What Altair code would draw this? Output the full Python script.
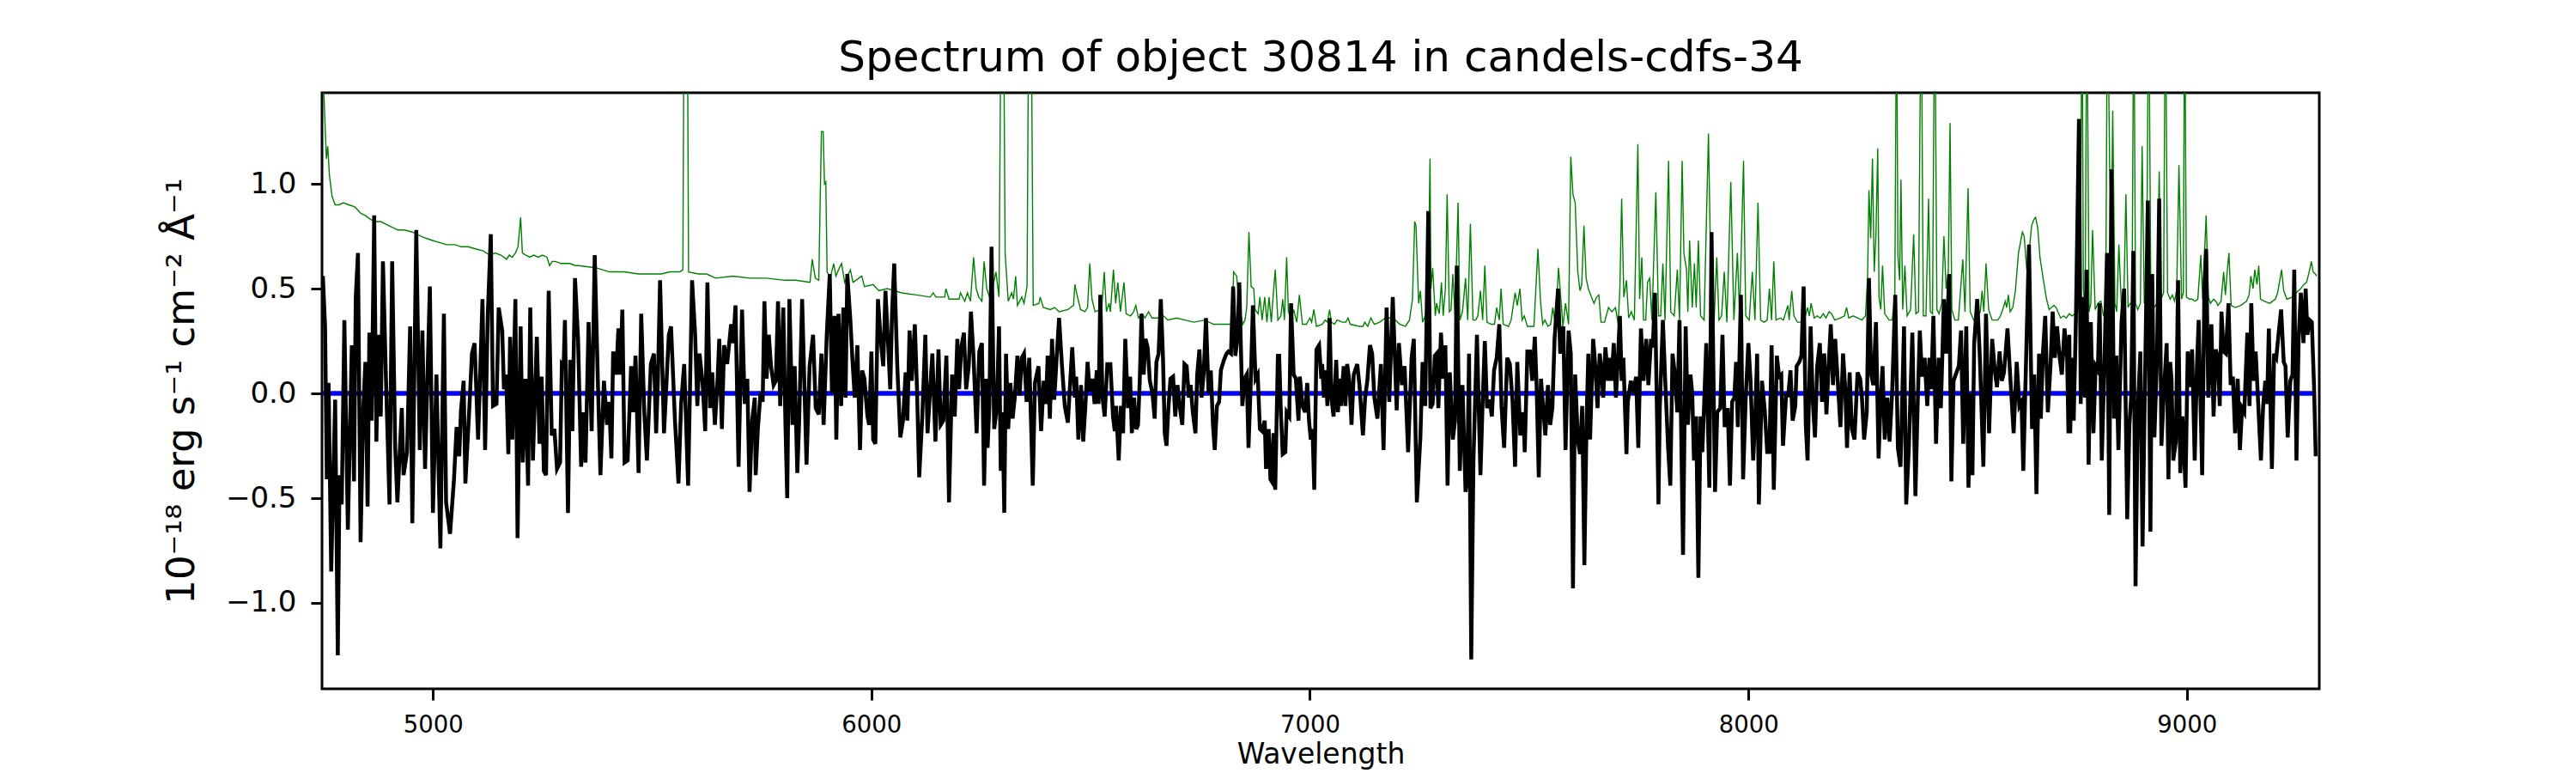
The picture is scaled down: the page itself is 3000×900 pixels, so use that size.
import altair as alt
import pandas as pd

TITLE = "Spectrum of object 30814 in candels-cdfs-34"
X_LABEL = "Wavelength"
Y_LABEL = "10⁻¹⁸ erg s⁻¹ cm⁻² Å⁻¹"
X_TICKS = [5000, 6000, 7000, 8000, 9000]
Y_TICKS = [-1.0, -0.5, 0.0, 0.5, 1.0]
X_DOMAIN = [4747, 9302]
Y_DOMAIN = [-1.41, 1.435]

flux_a = [(4749,0.56),(4754,0.32),(4758,-0.41),(4762,0.05),(4768,-0.85),(4777,-0.03),(4783,-1.25),(4787,-0.39),(4792,-0.53),(4798,0.35),(4806,-0.65),(4815,0.23),(4820,-0.42),(4824,0.46),(4829,0.67),(4835,-0.71),(4841,-0.08),(4846,0.15),(4851,-0.54),(4855,0.29),(4860,-0.13),(4866,0.85),(4871,-0.23),(4876,0.28),(4881,-0.11),(4886,0.63),(4893,0.06),(4901,-0.53),(4907,0.63),(4914,-0.26),(4919,-0.52),(4929,-0.07),(4933,-0.39),(4941,-0.28),(4948,0.32),(4953,-0.62),(4962,0.78),(4970,-0.27),(4976,0.30),(4982,-0.36),(4993,0.51),(5000,-0.57),(5008,0.09),(5017,-0.74),(5025,0.38),(5030,-0.52),(5039,-0.67),(5048,-0.41),(5054,-0.16),(5060,-0.30),(5064,-0.08),(5070,0.06),(5074,-0.43),(5083,-0.07),(5089,0.19),(5095,0.24),(5103,-0.22),(5113,0.45),(5119,-0.27),(5125,0.37),(5132,0.76),(5137,-0.06),(5145,-0.05),(5150,0.41),(5158,0.30),(5162,0.02),(5167,0.09),(5172,-0.29),(5176,0.27),(5181,-0.22),(5188,0.45),(5193,-0.69),(5200,0.32),(5205,-0.33),(5211,0.07),(5217,-0.44),(5222,0.41),(5228,-0.32),(5237,0.27),(5243,-0.24),(5248,0.08),(5253,-0.37),(5258,-0.39),(5264,0.49),(5271,-0.20),(5277,-0.17),(5283,-0.36),(5290,-0.33),(5294,0.14),(5298,0.13),(5301,0.35),(5308,-0.57),(5313,0.16),(5318,-0.18),(5324,0.55)]
flux_b = [(5331,0.26),(5338,-0.35),(5343,-0.09),(5348,-0.33),(5355,0.34),(5362,-0.18),(5369,0.66),(5376,0.07),(5382,-0.39),(5390,0.06),(5397,-0.15),(5402,-0.04),(5407,-0.31),(5411,0.20),(5418,0.09),(5423,0.31),(5427,0.09),(5432,0.40),(5437,-0.33),(5444,-0.32),(5452,0.13),(5457,-0.09),(5462,0.18),(5469,-0.38),(5475,0.38),(5482,-0.09),(5488,-0.32),(5497,0.14),(5504,0.19),(5509,-0.19),(5513,0.06),(5518,0.54),(5527,-0.19),(5538,0.28),(5543,0.32),(5552,-0.13),(5560,-0.43),(5566,-0.05),(5573,0.14),(5582,-0.44),(5591,0.54),(5598,0.28),(5603,-0.06),(5608,0.19),(5615,0.05),(5621,-0.18),(5626,0.53),(5632,-0.07),(5637,0.10),(5643,-0.15),(5649,0.06),(5653,0.26),(5659,-0.17),(5664,0.23),(5671,0.14),(5680,0.33),(5685,0.24),(5690,0.42),(5697,-0.35),(5705,0.40),(5711,-0.05),(5717,0.07),(5722,-0.47),(5728,-0.13),(5734,-0.02),(5736,-0.39),(5741,-0.17),(5747,0.00),(5752,-0.04),(5756,0.44),(5761,0.07),(5766,0.28),(5771,0.13),(5777,0.04),(5782,0.06),(5787,0.44),(5792,-0.06),(5799,0.41),(5804,-0.15),(5808,-0.50),(5813,0.45),(5820,-0.15),(5825,0.13),(5831,-0.38),(5835,-0.15),(5842,0.45),(5852,-0.34),(5859,0.13),(5867,0.28),(5873,-0.07),(5880,-0.10),(5886,0.19),(5891,-0.15)]
flux_c = [(5898,0.27),(5905,0.57),(5910,0.00),(5916,0.37),(5920,-0.22),(5925,0.38),(5931,-0.06),(5936,0.41),(5941,-0.02),(5945,0.57),(5952,0.35),(5957,0.15),(5962,-0.02),(5968,0.23),(5974,-0.27),(5979,0.11),(5984,0.07),(5991,-0.11),(5995,-0.15),(6000,0.20),(6004,-0.22),(6009,-0.24),(6015,0.45),(6021,0.26),(6027,0.13),(6032,0.49),(6038,0.24),(6043,0.02),(6047,0.38),(6052,0.62),(6059,0.13),(6066,-0.21),(6072,-0.13),(6078,0.10),(6082,-0.13),(6087,0.30),(6092,0.06),(6099,0.33),(6104,0.02),(6109,-0.40),(6116,-0.11),(6123,0.28),(6128,-0.19),(6134,0.02),(6139,0.19),(6146,-0.23),(6153,0.21),(6158,-0.15),(6164,-0.13),(6171,0.18),(6177,-0.52),(6184,0.09),(6190,-0.11),(6196,0.26),(6200,0.02),(6205,0.22),(6211,0.29),(6216,0.02),(6222,0.13),(6227,0.39),(6233,0.17),(6240,-0.19),(6246,0.20),(6252,0.24),(6257,-0.44),(6262,0.07),(6265,-0.26),(6269,-0.06),(6274,0.70),(6280,-0.17),(6286,-0.07),(6291,0.32),(6295,-0.37),(6299,-0.09),(6303,-0.57),(6307,0.19),(6312,-0.17),(6317,0.05),(6322,-0.12),(6327,-0.02),(6333,0.18),(6338,-0.01),(6343,0.17),(6348,0.19),(6354,-0.04),(6360,0.17),(6368,-0.44),(6373,0.05),(6381,0.13),(6387,-0.18),(6393,0.06),(6398,-0.05),(6402,0.18),(6407,-0.12),(6412,0.26),(6417,-0.03),(6423,0.19),(6428,0.36),(6434,0.15),(6441,-0.06),(6448,-0.14),(6458,0.22)]
flux_d = [(6464,-0.02),(6467,0.08),(6472,-0.22),(6478,0.04),(6483,-0.23),(6488,-0.06),(6493,0.15),(6498,0.01),(6504,0.07),(6509,-0.05),(6514,0.11),(6518,-0.05),(6522,0.47),(6527,-0.02),(6532,-0.11),(6538,0.14),(6545,0.14),(6551,-0.11),(6555,-0.18),(6558,-0.06),(6564,-0.32),(6569,-0.06),(6574,-0.19),(6579,0.26),(6585,-0.07),(6590,0.08),(6594,-0.19),(6599,-0.02),(6604,-0.17),(6608,-0.15),(6612,0.06),(6616,0.38),(6621,0.09),(6625,0.26),(6630,0.22),(6635,0.06),(6641,0.00),(6646,-0.12),(6650,0.15),(6655,0.19),(6660,0.45),(6665,0.17),(6669,-0.19),(6673,-0.25),(6677,-0.08),(6682,0.07),(6688,0.08),(6693,-0.11),(6698,0.04),(6703,-0.06),(6709,-0.15),(6714,0.14),(6719,0.13),(6724,-0.02),(6728,0.04),(6733,-0.09),(6739,-0.19),(6743,0.09),(6748,0.21),(6753,-0.02),(6758,0.10),(6763,0.36),(6769,0.00),(6774,0.11),(6779,-0.15),(6783,-0.27),(6788,-0.06),(6793,-0.04),(6797,0.11),(6804,0.16),(6810,0.19),(6814,0.20),(6820,0.19),(6825,0.51),(6830,0.18),(6835,0.27),(6839,0.53),(6846,-0.06),(6851,0.07),(6856,0.09),(6860,-0.26),(6865,0.04),(6870,0.42),(6876,0.07),(6881,0.09),(6886,-0.17),(6891,-0.18),(6897,-0.13),(6900,-0.36),(6906,-0.17),(6910,-0.41),(6913,-0.42),(6917,-0.19),(6921,-0.46),(6927,0.18),(6930,0.18),(6934,-0.10),(6938,-0.29),(6944,-0.28),(6947,-0.09),(6953,-0.11),(6957,0.43),(6963,0.09),(6968,0.07),(6974,-0.13),(6977,0.08),(6983,-0.06),(6989,-0.09),(6994,0.05),(6998,-0.13),(7002,-0.22),(7006,-0.17),(7010,-0.46),(7015,0.21),(7021,0.23),(7026,0.07)]
flux_e = [(7028,0.14),(7032,-0.02),(7036,0.11),(7040,-0.06),(7045,0.36),(7049,-0.02),(7054,-0.11),(7060,0.16),(7064,-0.09),(7068,0.07),(7071,-0.06),(7077,0.13),(7081,-0.06),(7085,0.14),(7090,0.06),(7095,-0.15),(7100,0.09),(7108,0.14),(7113,0.04),(7121,-0.20),(7126,-0.02),(7131,0.06),(7137,0.23),(7142,0.19),(7147,-0.02),(7154,-0.12),(7162,0.14),(7168,-0.27),(7175,0.41),(7181,-0.04),(7189,0.46),(7198,-0.08),(7203,0.24),(7210,0.04),(7216,0.13),(7224,-0.28),(7232,0.17),(7237,0.26),(7244,-0.52),(7252,-0.21),(7257,0.15),(7263,-0.06),(7270,0.87),(7275,-0.07),(7280,-0.05),(7285,0.18),(7289,0.19),(7293,-0.07),(7299,0.29),(7304,0.07),(7309,0.23),(7314,-0.44),(7319,0.10),(7326,-0.22),(7331,-0.13),(7335,0.61),(7342,-0.37),(7348,0.04),(7355,-0.47),(7359,-0.39),(7363,0.19),(7368,-1.27),(7373,-0.32),(7381,0.28),(7389,-0.39),(7394,-0.04),(7399,0.25),(7404,-0.07),(7410,-0.03),(7415,-0.11),(7420,0.11),(7426,0.17),(7432,0.33),(7437,-0.06),(7443,-0.26),(7450,0.17),(7456,0.14),(7462,-0.03),(7468,-0.35),(7473,0.15),(7480,-0.20),(7487,-0.09),(7490,-0.28),(7496,0.20),(7502,0.20),(7507,0.06),(7513,0.27),(7517,0.04),(7522,-0.40),(7527,0.07),(7532,-0.07),(7537,-0.20),(7543,0.04),(7548,-0.15),(7553,-0.07),(7558,0.26),(7566,0.50),(7571,0.19),(7578,0.32),(7583,-0.27),(7590,0.30)]
flux_f = [(7595,0.19),(7600,-0.93),(7605,0.09),(7611,-0.22),(7616,-0.29),(7621,-0.06),(7626,-0.82),(7631,-0.13),(7635,0.19),(7639,-0.22),(7646,0.26),(7651,0.13),(7656,-0.07),(7661,0.19),(7665,0.11),(7669,-0.02),(7674,0.22),(7680,0.06),(7684,0.17),(7688,0.06),(7693,0.24),(7698,-0.02),(7703,0.19),(7707,0.37),(7711,0.06),(7715,0.17),(7722,-0.29),(7725,-0.04),(7732,0.06),(7737,0.00),(7744,0.08),(7749,-0.26),(7755,0.31),(7761,0.06),(7767,0.26),(7772,0.04),(7778,0.26),(7782,0.22),(7787,0.48),(7795,-0.53),(7798,-0.07),(7805,0.35),(7810,0.08),(7817,-0.26),(7822,-0.44),(7827,0.19),(7832,0.10),(7838,-0.09),(7843,0.35),(7851,-0.77),(7857,0.32),(7862,-0.15),(7868,0.09),(7872,0.00),(7876,-0.32),(7881,-0.11),(7886,-0.88),(7891,-0.11),(7895,-0.28),(7899,-0.06),(7904,0.24),(7911,-0.45),(7916,0.77),(7924,-0.47),(7929,-0.09),(7936,-0.07),(7941,0.28),(7946,-0.16),(7953,-0.07),(7958,-0.44),(7963,-0.04),(7968,-0.02),(7972,0.15),(7976,-0.16),(7983,0.47),(7988,-0.41),(7994,-0.02),(8000,0.24),(8005,0.06),(8011,-0.32),(8016,-0.09),(8020,0.19),(8024,-0.53),(8031,0.06),(8037,-0.07),(8043,-0.28),(8048,-0.28),(8053,0.23),(8058,-0.46),(8065,0.18),(8070,0.08),(8075,0.09),(8079,-0.25),(8086,-0.01),(8091,-0.01),(8096,0.11),(8101,-0.13),(8107,-0.06),(8110,0.13),(8116,0.15),(8121,0.18),(8126,0.51),(8131,-0.15),(8135,-0.32),(8142,0.32),(8147,-0.04),(8152,-0.21),(8157,0.13),(8163,0.24)]
flux_g = [(8168,-0.04),(8173,0.19),(8178,-0.10),(8184,0.17),(8188,0.33),(8193,0.04),(8198,0.26),(8203,0.09),(8210,-0.16),(8216,0.19),(8221,0.02),(8225,-0.26),(8231,0.10),(8236,-0.17),(8242,-0.22),(8249,0.10),(8255,0.07),(8259,-0.02),(8264,-0.22),(8270,-0.09),(8275,0.55),(8280,0.09),(8285,0.04),(8291,0.34),(8297,-0.31),(8302,-0.02),(8306,0.13),(8311,-0.22),(8317,-0.02),(8322,-0.23),(8328,0.01),(8335,0.47),(8341,-0.26),(8347,-0.35),(8355,0.32),(8360,-0.53),(8366,-0.26),(8374,0.29),(8381,-0.49),(8386,-0.06),(8391,0.30),(8396,0.08),(8402,0.17),(8408,-0.06),(8413,0.17),(8417,0.02),(8422,0.37),(8428,-0.24),(8434,0.17),(8439,-0.07),(8446,0.45),(8451,0.19),(8458,0.57),(8463,-0.42),(8468,0.06),(8473,0.09),(8480,0.13),(8485,0.30),(8490,-0.24),(8497,0.32),(8502,-0.45),(8507,0.00),(8511,-0.39),(8515,0.24),(8522,0.45),(8528,0.17),(8536,-0.35),(8542,0.38),(8549,-0.19),(8556,0.26),(8562,0.11),(8567,0.03),(8573,0.20),(8578,0.06),(8583,0.10),(8591,0.31),(8597,0.09),(8605,-0.19),(8612,0.15),(8618,-0.06),(8623,-0.04),(8627,-0.37),(8633,0.13),(8640,0.71),(8647,-0.17),(8652,0.09),(8657,-0.48),(8663,0.19),(8667,-0.12),(8672,0.20),(8677,0.37),(8683,-0.09),(8689,0.13),(8694,0.39),(8699,0.17),(8704,0.32),(8710,0.17),(8715,0.09),(8721,0.31),(8727,0.17),(8730,-0.19)]
flux_h = [(8732,0.28),(8734,-0.19),(8738,0.17),(8742,-0.13),(8747,0.35),(8754,1.31),(8758,-0.05),(8763,0.46),(8768,-0.02),(8771,0.59),(8776,-0.34),(8781,0.34),(8787,-0.19),(8792,0.13),(8797,0.11),(8801,0.43),(8806,-0.32),(8811,0.06),(8818,0.67),(8823,-0.58),(8828,1.07),(8834,-0.12),(8839,0.18),(8844,-0.27),(8851,0.34),(8857,0.50),(8864,-0.60),(8869,-0.15),(8873,-0.02),(8878,0.68),(8883,-0.92),(8888,-0.09),(8894,0.20),(8899,-0.73),(8904,-0.02),(8911,0.92),(8917,-0.66),(8921,0.57),(8926,-0.21),(8932,0.17),(8937,0.93),(8942,-0.25),(8947,-0.02),(8954,0.24),(8958,-0.41),(8962,0.15),(8965,0.07),(8969,-0.32),(8975,-0.23),(8980,0.54),(8985,-0.38),(8990,-0.11),(8997,-0.45),(9002,0.20),(9007,0.03),(9012,0.21),(9018,-0.32),(9023,0.13),(9027,0.35),(9035,-0.39),(9040,0.50),(9044,0.69),(9049,-0.02),(9056,0.33),(9061,-0.11),(9066,0.21),(9071,0.17),(9075,-0.06),(9079,0.39),(9084,0.20),(9089,0.19),(9095,0.43),(9100,0.04),(9105,0.08),(9110,-0.19),(9116,0.07),(9121,-0.27),(9126,-0.07),(9131,-0.09),(9138,0.29),(9143,-0.06),(9147,0.43),(9152,0.06),(9157,0.20),(9163,-0.06),(9169,-0.32),(9174,-0.06),(9179,0.06),(9183,-0.05),(9187,0.31),(9194,-0.36),(9199,0.19),(9204,0.17),(9209,0.28),(9215,0.40),(9221,0.15),(9225,0.13),(9230,-0.21),(9236,0.06),(9241,0.09),(9245,0.59),(9250,-0.32),(9255,0.26),(9260,0.48),(9266,0.24),(9271,0.50),(9275,0.28),(9280,0.35),(9285,0.34),(9290,0.04),(9294,-0.30)]

# uncertainty / sky spectrum (green); 2.0 marks lines running off the top
sigma_a = [(4748,1.70),(4751,1.45),(4754,1.28),(4757,1.12),(4760,1.18),(4764,1.04),(4770,0.94),(4777,0.90),(4786,0.90),(4796,0.91),(4808,0.90),(4822,0.89),(4835,0.86),(4845,0.85),(4858,0.83),(4870,0.82),(4881,0.82),(4900,0.80),(4920,0.78),(4935,0.78),(4953,0.77),(4973,0.75),(4985,0.74),(4999,0.73),(5015,0.72),(5031,0.71),(5050,0.71),(5064,0.70),(5080,0.70),(5097,0.69),(5115,0.68),(5129,0.66),(5142,0.67),(5155,0.66),(5168,0.64),(5174,0.66),(5181,0.65),(5188,0.67),(5194,0.70),(5200,0.84),(5204,0.67),(5212,0.66),(5221,0.65),(5230,0.66),(5240,0.65),(5250,0.66),(5260,0.65),(5266,0.61),(5272,0.63),(5279,0.63),(5292,0.62),(5312,0.62),(5325,0.61)]
sigma_b = [(5332,0.61),(5371,0.60),(5403,0.58),(5436,0.58),(5469,0.57),(5501,0.57),(5521,0.57),(5540,0.58),(5563,0.58),(5570,0.59),(5573,2.0),(5580,2.0),(5583,0.58),(5606,0.57),(5624,0.57),(5645,0.55),(5684,0.56),(5723,0.55),(5762,0.55),(5801,0.54),(5827,0.54),(5860,0.53),(5865,0.64),(5872,0.55),(5880,0.54),(5886,1.25)]
sigma_c = [(5890,1.25),(5893,1.00),(5896,1.01),(5899,0.58),(5906,0.55),(5914,0.62),(5919,0.56),(5925,0.59),(5932,0.62),(5939,0.53),(5952,0.59),(5958,0.53),(5971,0.55),(5978,0.56),(5984,0.51),(6004,0.52),(6017,0.49),(6036,0.50),(6069,0.48),(6102,0.47),(6134,0.46),(6141,0.48),(6147,0.46),(6167,0.46),(6170,0.50),(6177,0.45),(6200,0.45),(6203,0.48),(6213,0.44),(6219,0.48),(6226,0.44),(6233,0.65),(6239,0.50),(6245,0.46),(6252,0.44),(6257,0.63),(6263,0.50),(6271,0.45),(6284,0.58),(6291,0.46),(6296,2.0),(6301,2.0),(6305,0.67),(6312,0.44),(6320,0.48),(6324,0.45),(6329,0.56),(6333,0.42),(6343,0.46),(6348,0.43),(6355,0.51),(6359,2.0),(6364,2.0),(6369,0.42),(6382,0.43),(6385,0.46),(6392,0.41),(6408,0.40),(6418,0.41),(6428,0.39),(6448,0.40)]
sigma_d = [(6454,0.41),(6461,0.42),(6464,0.52),(6470,0.46),(6477,0.40),(6487,0.39),(6493,0.41),(6498,0.62),(6503,0.45),(6510,0.39),(6525,0.40),(6531,0.58),(6536,0.39),(6542,0.43),(6545,0.39),(6552,0.59),(6557,0.43),(6562,0.53),(6568,0.39),(6576,0.53),(6581,0.38),(6591,0.37),(6598,0.39),(6603,0.42),(6609,0.36),(6617,0.38),(6624,0.36),(6632,0.39),(6640,0.36),(6656,0.36),(6666,0.37),(6676,0.35),(6696,0.36),(6715,0.35),(6735,0.34),(6761,0.35),(6780,0.33),(6806,0.33),(6823,0.33),(6826,0.58),(6833,0.56),(6839,0.41),(6847,0.33),(6852,0.35),(6856,0.41),(6861,0.77),(6866,0.51),(6872,0.50),(6875,0.40),(6882,0.38),(6886,0.46),(6891,0.35),(6897,0.46),(6902,0.34),(6907,0.46),(6912,0.34),(6916,0.46),(6921,0.59),(6927,0.35),(6934,0.37),(6938,0.45),(6942,0.35),(6947,0.65),(6951,0.39),(6957,0.35),(6963,0.40),(6970,0.34),(6976,0.47),(6983,0.33),(6992,0.33),(7000,0.36),(7004,0.34),(7009,0.40),(7015,0.32),(7028,0.33)]
sigma_e = [(7035,0.35),(7040,0.34),(7045,0.40),(7049,0.34),(7056,0.33),(7062,0.35),(7074,0.34),(7082,0.34),(7087,0.36),(7092,0.33),(7113,0.32),(7121,0.32),(7125,0.34),(7132,0.32),(7139,0.36),(7147,0.33),(7159,0.34),(7172,0.36),(7182,0.36),(7190,0.36),(7205,0.33),(7218,0.32),(7227,0.35),(7234,0.45),(7239,0.82),(7242,0.80),(7248,0.43),(7252,0.49),(7257,0.34),(7265,0.38),(7270,0.54),(7274,1.12),(7276,0.50),(7280,0.60),(7286,0.37),(7289,0.43),(7295,0.38),(7300,0.53),(7304,0.37),(7309,0.50),(7313,0.95),(7318,0.39),(7322,0.40),(7326,0.57),(7331,0.37),(7338,0.91),(7342,0.35),(7348,0.39),(7355,0.55),(7360,0.35),(7366,0.81),(7372,0.35),(7378,0.35),(7383,0.37),(7389,0.49),(7394,0.35),(7399,0.61),(7404,0.34),(7413,0.33),(7421,0.33),(7426,0.41),(7432,0.35),(7436,0.50),(7441,0.33),(7453,0.32),(7459,0.35),(7468,0.48),(7473,0.42),(7479,0.50),(7484,0.35),(7489,0.37),(7496,0.32),(7511,0.32),(7520,0.69),(7526,0.44),(7531,0.33),(7536,0.35),(7543,0.32),(7549,0.33),(7554,0.41),(7560,0.32),(7567,0.60),(7571,0.49),(7577,0.32),(7583,0.43),(7590,0.33),(7595,1.13)]
sigma_f = [(7600,0.95),(7605,0.91),(7611,0.58),(7616,0.49),(7620,0.52),(7625,0.80),(7630,0.55),(7635,0.50),(7642,0.46),(7648,0.43),(7654,0.46),(7659,0.47),(7664,0.34),(7672,0.34),(7681,0.41),(7689,0.39),(7697,0.41),(7703,0.33),(7707,0.50),(7711,0.93),(7716,0.46),(7722,0.54),(7727,0.36),(7733,0.39),(7740,0.35),(7748,1.19),(7752,0.45),(7757,0.65),(7761,0.35),(7766,0.35),(7770,0.53),(7775,0.55),(7780,0.35),(7789,0.96),(7795,0.37),(7800,0.37),(7805,0.62),(7810,0.35),(7818,1.11),(7823,0.39),(7831,0.37),(7838,0.59),(7843,0.35),(7849,1.11),(7853,0.67),(7859,0.59),(7862,0.39),(7866,0.73),(7872,0.41),(7877,0.62),(7881,0.41),(7886,0.73),(7891,0.37),(7899,0.35),(7909,1.24),(7916,0.37),(7922,0.35),(7928,0.65),(7933,0.35),(7939,0.37),(7945,0.58),(7951,0.34),(7960,1.01),(7967,0.35),(7975,0.67),(7980,0.37),(7989,1.11),(7994,0.37),(8002,0.35),(8009,0.58),(8015,0.35),(8022,0.91),(8028,0.35),(8036,0.34),(8043,0.35),(8048,0.50),(8053,0.35),(8058,0.63),(8063,0.35),(8073,0.36),(8080,0.35),(8090,0.42),(8093,0.35),(8099,0.49),(8104,0.37),(8112,0.34),(8121,0.34),(8130,0.37),(8135,0.41),(8139,0.37),(8143,0.43),(8150,0.36),(8157,0.37)]
sigma_g = [(8164,0.36),(8171,0.38),(8177,0.36),(8184,0.39),(8190,0.38),(8197,0.35),(8210,0.36),(8219,0.37),(8224,0.41),(8229,0.36),(8239,0.37),(8249,0.36),(8259,0.35),(8267,0.37),(8272,0.56),(8275,0.97),(8279,0.74),(8283,1.12),(8287,0.58),(8291,0.76),(8295,1.17),(8298,0.46),(8302,0.40),(8306,0.61),(8311,0.38),(8321,0.35),(8328,0.35),(8334,0.46),(8338,2.0),(8341,0.66),(8345,0.54),(8348,1.02),(8352,0.40),(8357,0.61),(8362,0.37),(8370,0.40),(8377,0.76),(8382,0.38),(8388,0.39),(8394,2.0),(8399,0.37),(8405,0.37),(8411,0.93),(8415,0.39),(8420,0.38),(8425,2.0),(8430,0.40),(8435,0.38),(8441,0.43),(8446,0.75),(8451,0.50),(8456,0.58),(8460,1.29),(8464,0.40),(8471,0.35),(8479,0.35),(8489,0.64),(8494,0.39),(8501,0.98),(8506,0.39),(8514,0.35),(8523,0.37),(8529,0.39),(8533,0.49),(8537,0.39),(8542,0.62),(8548,0.40),(8556,0.35),(8569,0.35),(8575,0.37),(8580,0.40),(8586,0.44),(8589,0.41),(8593,0.47),(8597,0.39),(8603,0.41),(8609,0.49),(8616,0.67),(8625,0.77),(8629,0.75),(8635,0.59),(8640,0.67),(8646,0.80),(8651,0.83),(8655,0.84),(8660,0.79),(8665,0.65),(8673,0.54),(8680,0.45),(8686,0.40),(8691,0.41),(8697,0.42),(8702,0.41),(8706,0.39),(8712,0.36),(8719,0.37),(8725,0.36)]
sigma_h = [(8732,0.38),(8738,0.37),(8745,0.38),(8751,0.39),(8757,0.50),(8761,2.0),(8764,0.50),(8768,0.39),(8772,2.0),(8777,0.39),(8781,0.43),(8785,0.78),(8791,0.40),(8797,0.43),(8804,0.44),(8810,0.37),(8815,0.43),(8819,2.0),(8824,1.08),(8828,0.76),(8831,1.35),(8836,0.43),(8840,0.39),(8845,0.71),(8851,0.40),(8856,0.41),(8861,0.95),(8866,0.41),(8871,0.43),(8875,0.43),(8879,2.0),(8883,0.43),(8888,0.40),(8894,0.43),(8898,1.18),(8903,0.43),(8908,0.46),(8913,2.0),(8918,0.44),(8925,0.41),(8932,0.43),(8937,1.06),(8941,0.45),(8947,0.48),(8951,2.0),(8956,0.48),(8962,0.45),(8967,0.47),(8972,0.44),(8977,0.50),(8982,1.09),(8988,0.45),(8992,0.48),(8995,2.0),(8999,0.46),(9006,0.45),(9012,0.45),(9019,0.44),(9025,0.45),(9032,0.66),(9036,0.45),(9040,0.65),(9044,0.85),(9049,0.46),(9054,0.43),(9061,0.45),(9066,0.44),(9071,0.42),(9078,0.44),(9084,0.58),(9088,0.47),(9092,0.58),(9096,0.67),(9101,0.42),(9110,0.41),(9123,0.42),(9136,0.44),(9142,0.47),(9146,0.56),(9151,0.50),(9155,0.59),(9160,0.52),(9164,0.61),(9168,0.45),(9176,0.44),(9189,0.43),(9202,0.45),(9207,0.48),(9212,0.54),(9216,0.59),(9221,0.49),(9228,0.45),(9241,0.46),(9254,0.49),(9260,0.50),(9267,0.52),(9273,0.53),(9279,0.58),(9284,0.63),(9288,0.58),(9293,0.57),(9296,0.56)]

# zero level (blue)
zero_wave = [4749, 9294]
zero_flux = [0.0, 0.0]

FONT = "DejaVu Sans"
PLOT_W = 2326
PLOT_H = 694


def to_frame(parts):
    rows = [pair for part in parts for pair in part]
    return pd.DataFrame(rows, columns=["wave", "flux"])


flux_df = to_frame([flux_a, flux_b, flux_c, flux_d, flux_e, flux_f, flux_g, flux_h])
sigma_df = to_frame([sigma_a, sigma_b, sigma_c, sigma_d, sigma_e, sigma_f, sigma_g, sigma_h])
zero_df = pd.DataFrame({"wave": zero_wave, "flux": zero_flux})
title_df = pd.DataFrame({"label": [TITLE]})

xscale = alt.Scale(domain=X_DOMAIN, nice=False, zero=False)
yscale = alt.Scale(domain=Y_DOMAIN, nice=False, zero=False)

x_axis = alt.Axis(
    values=X_TICKS, format="d", title=X_LABEL,
    labelFontSize=27.5, titleFontSize=33, labelPadding=15,
    titleX=PLOT_W / 2, titleY=86, titleBaseline="alphabetic", titleAlign="center",
)
y_axis = alt.Axis(
    values=Y_TICKS, title=Y_LABEL,
    labelExpr="replace(format(datum.value, '.1f'), '-', '\u2212')",
    labelFontSize=34, titleFontSize=45, labelPadding=17,
    titleX=-150, titleY=PLOT_H / 2, titleAngle=270,
    titleBaseline="alphabetic", titleAlign="center",
)

green = alt.Chart(sigma_df).mark_line(color="#008000", strokeWidth=1.4, clip=True).encode(
    x=alt.X("wave:Q", scale=xscale, axis=x_axis),
    y=alt.Y("flux:Q", scale=yscale, axis=y_axis),
)
blue = alt.Chart(zero_df).mark_line(color="#0000ff", strokeWidth=5.5, clip=True).encode(
    x=alt.X("wave:Q", scale=xscale),
    y=alt.Y("flux:Q", scale=yscale),
)
black = alt.Chart(flux_df).mark_line(color="#000000", strokeWidth=4.5, clip=True).encode(
    x=alt.X("wave:Q", scale=xscale),
    y=alt.Y("flux:Q", scale=yscale),
)
title = alt.Chart(title_df).mark_text(
    font=FONT, fontSize=50, color="black", align="center", baseline="alphabetic",
).encode(
    text="label:N",
    x=alt.value(PLOT_W / 2),
    y=alt.value(-25),
)

chart = (
    alt.layer(green, blue, black, title)
    .properties(
        width=PLOT_W,
        height=PLOT_H,
        autosize=alt.AutoSizeParams(type="none"),
        padding={"left": 367, "top": 100, "right": 270, "bottom": 96},
        background="white",
    )
    .configure_view(stroke="black", strokeWidth=3)
    .configure_axis(
        labelFont=FONT, titleFont=FONT, labelColor="black", titleColor="black",
        titleFontWeight="normal", tickColor="black", tickSize=13, tickWidth=3,
        domain=False, grid=False,
    )
)

chart.save("out.html", embed_options={"renderer": "svg", "actions": False})
